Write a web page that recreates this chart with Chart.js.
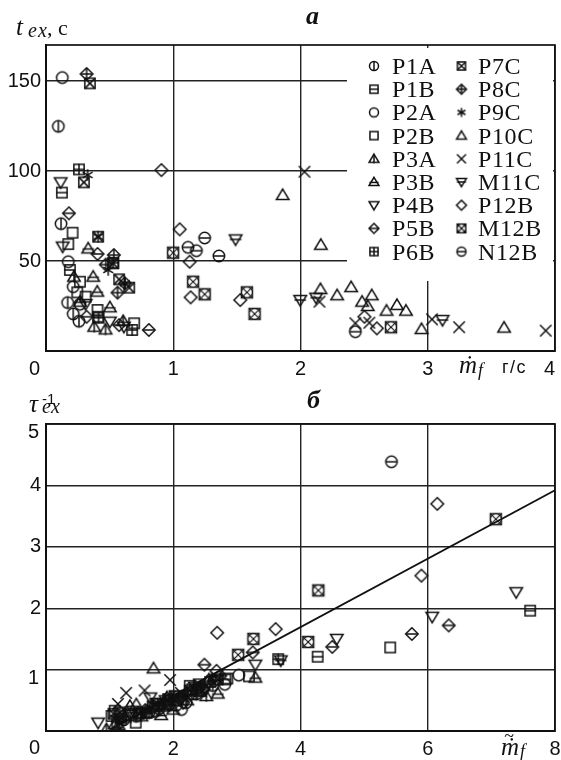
<!DOCTYPE html>
<html lang="ru">

<head>
    <meta charset="UTF-8">
    <title>tex</title>
    <script src="https://cdn.jsdelivr.net/npm/chart.js"></script>
    <style>
        html, body { margin: 0; padding: 0; background: #fff; }
        canvas { display: block; }
    </style>
</head>

<body>
    <canvas id="chartA" width="561" height="380"></canvas>
    <canvas id="chartB" width="561" height="380"></canvas>

<script>
    // tick labels
    const xTicksA = [0, 1, 2, 3, 4];
    const yTicksA = [0, 50, 100, 150];
    const xTicksB = [0, 2, 4, 6, 8];
    const yTicksB = [0, 1, 2, 3, 4, 5];

    const seriesNames = ['P1A', 'P1B', 'P2A', 'P2B', 'P3A', 'P3B', 'P4B', 'P5B', 'P6B',
        'P7C', 'P8C', 'P9C', 'P10C', 'P11C', 'M11C', 'P12B', 'M12B', 'N12B'];

    // chart a: mf (g/s), tex (s)
    const aP1A = [[.097, 124.8], [.118, 70.7], [.17, 26.9], [.214, 20.6], [.259, 16.5]];
    const aP1B = [[.125, 88], [.188, 45], [.41, 19]];
    const aP2A = [[.128, 151.9], [.175, 49.6], [.214, 35.7], [.267, 26]];
    const aP2B = [[.209, 65.7], [.175, 59.4], [.267, 38.5], [.246, 32.6], [.311, 30.2], [.405, 22.8], [.693, 15.4]];
    const aP3A = [[.468, 12], [.379, 13.5], [.22, 41.3], [.607, 16.7]];
    const aP3B = [[.332, 57], [.371, 41.3], [.403, 33], [.267, 27.4], [.502, 24.3]];
    const aP4B = [[.115, 93.7], [.131, 58], [.311, 26.1], [.502, 16.3], [.612, 13.5]];
    const aP5B = [[.18, 76.5], [.405, 53.9], [.319, 19], [.808, 11.7], [.575, 14.4]];
    const aP6B = [[.259, 100.9], [.413, 18.5], [.677, 11.7], [.528, 49]];
    const aP7C = [[.345, 148.7], [.298, 93.7], [.41, 63.5], [.575, 39.8], [.654, 35.2], [.528, 48.7]];
    const aP8C = [[.319, 153.9], [.533, 53.3], [.562, 32.4], [.62, 37.6], [.47, 48]];
    const aP9C = [[.327, 97.8], [.41, 63.5], [.489, 45], [.62, 37.6]];
    const aP10C = [[1.86, 86.7], [2.16, 59], [2.157, 34.4], [2.288, 31], [2.398, 35.5], [2.56, 31], [2.484, 27.4],
        [2.528, 25], [2.676, 22.4], [2.758, 25.6], [2.829, 22.4], [2.951, 12.2], [3.6, 13]];
    const aP11C = [[2.031, 99.6], [2.149, 27.4], [2.431, 15.4], [2.541, 15.7], [3.033, 17.6], [3.247, 13.2], [3.927, 11.3]];
    const aM11C = [[1.49, 62], [1.998, 28.3], [2.123, 29.6], [3.116, 17.2]];
    const aP12B = [[.907, 100.5], [1.051, 67.6], [1.129, 49.6], [1.137, 29.8], [1.527, 28.3], [2.502, 19], [2.6, 12.6]];
    const aM12B = [[.999, 54.6], [1.156, 38.5], [1.247, 31.5], [1.579, 32.6], [1.639, 20.6], [2.711, 13.2]];
    const aN12B = [[1.116, 57.6], [1.182, 55.7], [1.247, 62.8], [1.359, 52.8], [2.431, 10.7]];

    // chart b: reduced mf, 1/tau
    const bP1A = [[1.42, .24], [1.62, .3], [1.78, .36], [1.94, .42], [2.08, .5], [2.2, .46], [2.36, .6], [2.62, .74]];
    const bP1B = [[7.61, 1.96], [4.27, 1.21], [1.18, .2], [1.58, .3], [1.96, .5], [2.3, .6], [2.82, .84]];
    const bP2A = [[3.03, .91], [2.81, .76], [2.13, .35], [1.22, .18], [1.72, .32], [2.05, .42], [2.46, .66]];
    const bP2B = [[5.41, 1.36], [3.19, .89], [2.85, .855], [1.41, .136], [1.03, .245], [1.08, .33], [1.3, .26], [1.9, .44], [2.26, .735], [2.36, .66]];
    const bP3A = [[2.52, .57], [.95, .03], [1.14, .1], [1.5, .24], [1.84, .4], [2.22, .5]];
    const bP3B = [[2.7, .61], [3.29, .87], [2, .35], [1.81, .26], [1.6, .3], [2.42, .64]];
    const bP4B = [[7.39, 2.26], [6.07, 1.86], [4.57, 1.5], [3.29, 1.08], [1.64, .545], [.82, .136], [1.37, .33], [1.88, .5], [2.5, .68]];
    const bP5B = [[6.33, 1.72], [5.75, 1.58], [4.5, 1.37], [3.25, 1.28], [2.49, 1.08], [1.7, .4], [2.1, .54], [2.4, .7]];
    const bP6B = [[3.65, 1.17], [1.12, .14], [1.5, .3], [1.76, .44], [2.02, .56], [2.3, .68], [2.58, .8]];
    const bP7C = [[1.06, .28], [1.46, .28], [1.92, .52], [2.26, .66], [2.4, .76], [2.7, .84]];
    const bP8C = [[1.2, .24], [1.56, .34], [1.86, .46], [2.14, .56], [2.44, .72], [2.74, .9]];
    const bP9C = [[1.1, .2], [1.66, .38], [1.98, .54], [2.18, .6], [2.6, .86]];
    const bP10C = [[1.69, 1.02], [1.42, .435], [1.32, .41], [1.24, .22], [1.08, .11], [1.9, .55], [2.56, .84]];
    const bP11C = [[1.26, .62], [1.55, .66], [1.95, .83], [1.13, .44], [1.72, .44], [2.12, .62]];
    const bM11C = [[3.69, 1.15], [1.34, .3], [1.74, .46], [2.04, .58], [2.34, .72]];
    const bP12B = [[6.15, 3.7], [5.9, 2.53], [2.69, 1.6], [3.61, 1.66], [2.68, .98], [2.155, .46], [2.48, .68]];
    const bM12B = [[7.07, 3.45], [4.28, 2.29], [4.12, 1.45], [3.26, 1.5], [3.02, 1.24], [1.16, .3], [1.68, .4]];
    const bN12B = [[5.43, 4.385], [1.9, .48], [2.24, .58], [2.64, .82]];

    // fitted line on chart b
    const fitLine = [[1.02, .03], [8, 3.92]];

    const seriesA = [aP1A, aP1B, aP2A, aP2B, aP3A, aP3B, aP4B, aP5B, aP6B, aP7C, aP8C, aP9C, aP10C, aP11C, aM11C, aP12B, aM12B, aN12B];
    const seriesB = [bP1A, bP1B, bP2A, bP2B, bP3A, bP3B, bP4B, bP5B, bP6B, bP7C, bP8C, bP9C, bP10C, bP11C, bM11C, bP12B, bM12B, bN12B];
    const kinds = ['oV', 'sH', 'o', 's', 'tV', 'tH', 'v', 'dH', 'sP', 'sX', 'dP', 'star', 't', 'x', 'vH', 'd', 'soX', 'oH'];

    const INK = '#111';
    const SANS = '"Liberation Sans", Arial, sans-serif';
    const SERIF = '"Liberation Serif", "DejaVu Serif", serif';

    // marker images, r is half the marker size
    function marker(kind, r) {
        const c = document.createElement('canvas');
        c.width = c.height = 2 * Math.ceil(r) + 6;
        const g = c.getContext('2d');
        const m = c.width / 2;
        g.strokeStyle = INK;
        g.lineWidth = kind === 'soX' ? 1.1 : 1.5;
        g.translate(m, m);
        const line = (x1, y1, x2, y2) => { g.beginPath(); g.moveTo(x1, y1); g.lineTo(x2, y2); g.stroke(); };
        const poly = pts => {
            g.beginPath();
            pts.forEach((p, i) => i ? g.lineTo(p[0], p[1]) : g.moveTo(p[0], p[1]));
            g.closePath();
            g.stroke();
        };
        const base = kind[0];
        const s = r * .9;
        if (base === 'o') { g.beginPath(); g.arc(0, 0, r, 0, Math.PI * 2); g.stroke(); }
        if (base === 's' && kind !== 'star' && kind !== 'soX') g.strokeRect(-s, -s, 2 * s, 2 * s);
        if (base === 't') poly([[0, -r * 1.05], [r * 1.1, r * .8], [-r * 1.1, r * .8]]);
        if (base === 'v') poly([[0, r * 1.05], [r * 1.1, -r * .8], [-r * 1.1, -r * .8]]);
        if (base === 'd') poly([[0, -r * 1.1], [r * 1.1, 0], [0, r * 1.1], [-r * 1.1, 0]]);
        if (kind === 'x') { line(-r, -r, r, r); line(-r, r, r, -r); }
        if (kind === 'star') {
            line(0, -r, 0, r);
            line(-r * .87, -r * .5, r * .87, r * .5);
            line(-r * .87, r * .5, r * .87, -r * .5);
        }
        const extra = kind.slice(1);
        if (kind !== 'star') {
            if (extra === 'V' || extra === 'P') line(0, -r, 0, r);
            if (extra === 'H' || extra === 'P') line(-r, base === 't' ? r * .1 : 0, r, base === 't' ? r * .1 : 0);
            if (extra === 'X') { line(-s, -s, s, s); line(-s, s, s, -s); }
            if (extra === 'oX') {
                g.strokeRect(-r, -r, 2 * r, 2 * r);
                g.beginPath(); g.arc(0, 0, r * .95, 0, Math.PI * 2); g.stroke();
                line(-r, -r, r, r); line(-r, r, r, -r);
            }
        }
        return c;
    }

    function scatterSets(rows) {
        const sets = rows.map((row, i) => ({
            label: seriesNames[i],
            data: row.map(p => ({ x: p[0], y: p[1] })),
            pointStyle: marker(kinds[i], 5.7),
            pointRadius: 5
        }));
        return sets;
    }

    function txt(ctx, s, x, y, font, spacing) {
        ctx.font = font;
        ctx.letterSpacing = (spacing || 0) + 'px';
        ctx.fillStyle = INK;
        ctx.textAlign = 'left';
        ctx.textBaseline = 'alphabetic';
        ctx.fillText(s, x, y);
        ctx.letterSpacing = '0px';
    }

    function axisScale(tickList, min, max, isX, hidden) {
        return {
            type: 'linear',
            min: min,
            max: max,
            afterBuildTicks: s => { s.ticks = tickList.map(v => ({ value: v })); },
            afterFit: s => {
                if (isX) { s.height = 29; s.paddingLeft = 0; s.paddingRight = 0; }
                else { s.width = 46; s.paddingTop = 0; s.paddingBottom = 0; }
            },
            grid: { color: '#222', lineWidth: 1.4, drawTicks: false },
            border: { color: INK, width: 2 },
            ticks: {
                color: INK,
                font: { family: SANS, size: 20 },
                padding: isX ? 6 : 5,
                autoSkip: false,
                maxRotation: 0,
                callback: v => hidden.includes(v) ? '' : String(v)
            }
        };
    }

    function frame(chart) {
        const ctx = chart.ctx, a = chart.chartArea;
        ctx.save();
        ctx.strokeStyle = INK;
        ctx.lineWidth = 1.7;
        ctx.strokeRect(a.left, a.top, a.right - a.left, a.bottom - a.top);
        ctx.restore();
    }

    const extrasA = {
        id: 'extrasA',
        beforeDatasetsDraw(chart) {
            // legend area is left blank of grid lines
            const ctx = chart.ctx;
            ctx.save();
            ctx.fillStyle = '#fff';
            ctx.fillRect(347, 48, 206, 233);
            ctx.restore();
        },
        afterDraw(chart) {
            const ctx = chart.ctx;
            frame(chart);
            const sx = chart.scales.x;
            const font = '20px ' + SANS;
            txt(ctx, '0', sx.getPixelForValue(0) - 17, 375, font);
            txt(ctx, '4', sx.getPixelForValue(4) - 11, 375, font);

            // legend
            seriesNames.forEach((name, i) => {
                const col = i < 9 ? 0 : 1;
                const row = col ? i - 9 : i;
                const y = 66 + row * 23.2;
                const mx = col ? 461.5 : 374;
                const im = marker(kinds[i], 4.5);
                ctx.drawImage(im, mx - im.width / 2, y - im.height / 2);
                txt(ctx, name, col ? 478 : 392, y + 8, '24px ' + SERIF, .6);
            });

            // labels
            txt(ctx, 'а', 306, 24, 'italic bold 26px ' + SERIF);
            txt(ctx, 't', 16, 35, 'italic 25px ' + SERIF);
            txt(ctx, 'ex', 28, 37, 'italic 20px ' + SERIF, 1);
            txt(ctx, ',', 47, 35, '22px ' + SERIF);
            txt(ctx, 'с', 58, 35, '22px ' + SERIF);
            txt(ctx, 'ṁ', 459, 373, 'italic 25px ' + SERIF);
            txt(ctx, 'f', 478, 376, 'italic 18px ' + SERIF);
            txt(ctx, 'г/с', 502, 373, '18px ' + SANS, 1.5);
        }
    };

    const extrasB = {
        id: 'extrasB',
        afterDraw(chart) {
            const ctx = chart.ctx;
            frame(chart);
            const sx = chart.scales.x, sy = chart.scales.y;
            const font = '20px ' + SANS;
            txt(ctx, '0', sx.getPixelForValue(0) - 17, 374, font);
            // these two labels sit below their grid lines
            txt(ctx, '5', 28, sy.getPixelForValue(5) + 14, font);
            txt(ctx, '1', 28, sy.getPixelForValue(1) + 14, font);
            txt(ctx, 'б', 307, 28, 'italic bold 26px ' + SERIF);
            txt(ctx, 'τ', 29, 32, 'italic 25px ' + SERIF);
            txt(ctx, 'ex', 42, 33, 'italic 20px ' + SERIF);
            txt(ctx, '-1', 42, 24, '15px ' + SANS);
            txt(ctx, 'ṁ', 501, 375, 'italic 25px ' + SERIF);
            txt(ctx, '~', 504, 362, 'italic 18px ' + SERIF);
            txt(ctx, 'f', 520, 377, 'italic 18px ' + SERIF);
        }
    };

    new Chart(document.getElementById('chartA'), {
        type: 'scatter',
        data: { datasets: scatterSets(seriesA) },
        options: {
            responsive: false,
            animation: false,
            layout: { padding: { left: 0, right: 4.5, top: 45, bottom: 0 } },
            plugins: { legend: { display: false }, tooltip: { enabled: false } },
            scales: {
                x: axisScale(xTicksA, 0, 4, true, [0, 4]),
                y: axisScale(yTicksA, 0, 170, false, [0])
            }
        },
        plugins: [extrasA]
    });

    const setsB = scatterSets(seriesB);
    setsB.push({
        label: 'fit',
        data: fitLine.map(p => ({ x: p[0], y: p[1] })),
        showLine: true,
        borderColor: INK,
        borderWidth: 1.8,
        pointRadius: 0
    });

    new Chart(document.getElementById('chartB'), {
        type: 'scatter',
        data: { datasets: setsB },
        options: {
            responsive: false,
            animation: false,
            layout: { padding: { left: 0, right: 4.5, top: 44, bottom: 0 } },
            plugins: { legend: { display: false }, tooltip: { enabled: false } },
            scales: {
                x: axisScale(xTicksB, 0, 8, true, [0]),
                y: axisScale(yTicksB, 0, 5, false, [0, 1, 5])
            }
        },
        plugins: [extrasB]
    });
</script>
</body>

</html>
